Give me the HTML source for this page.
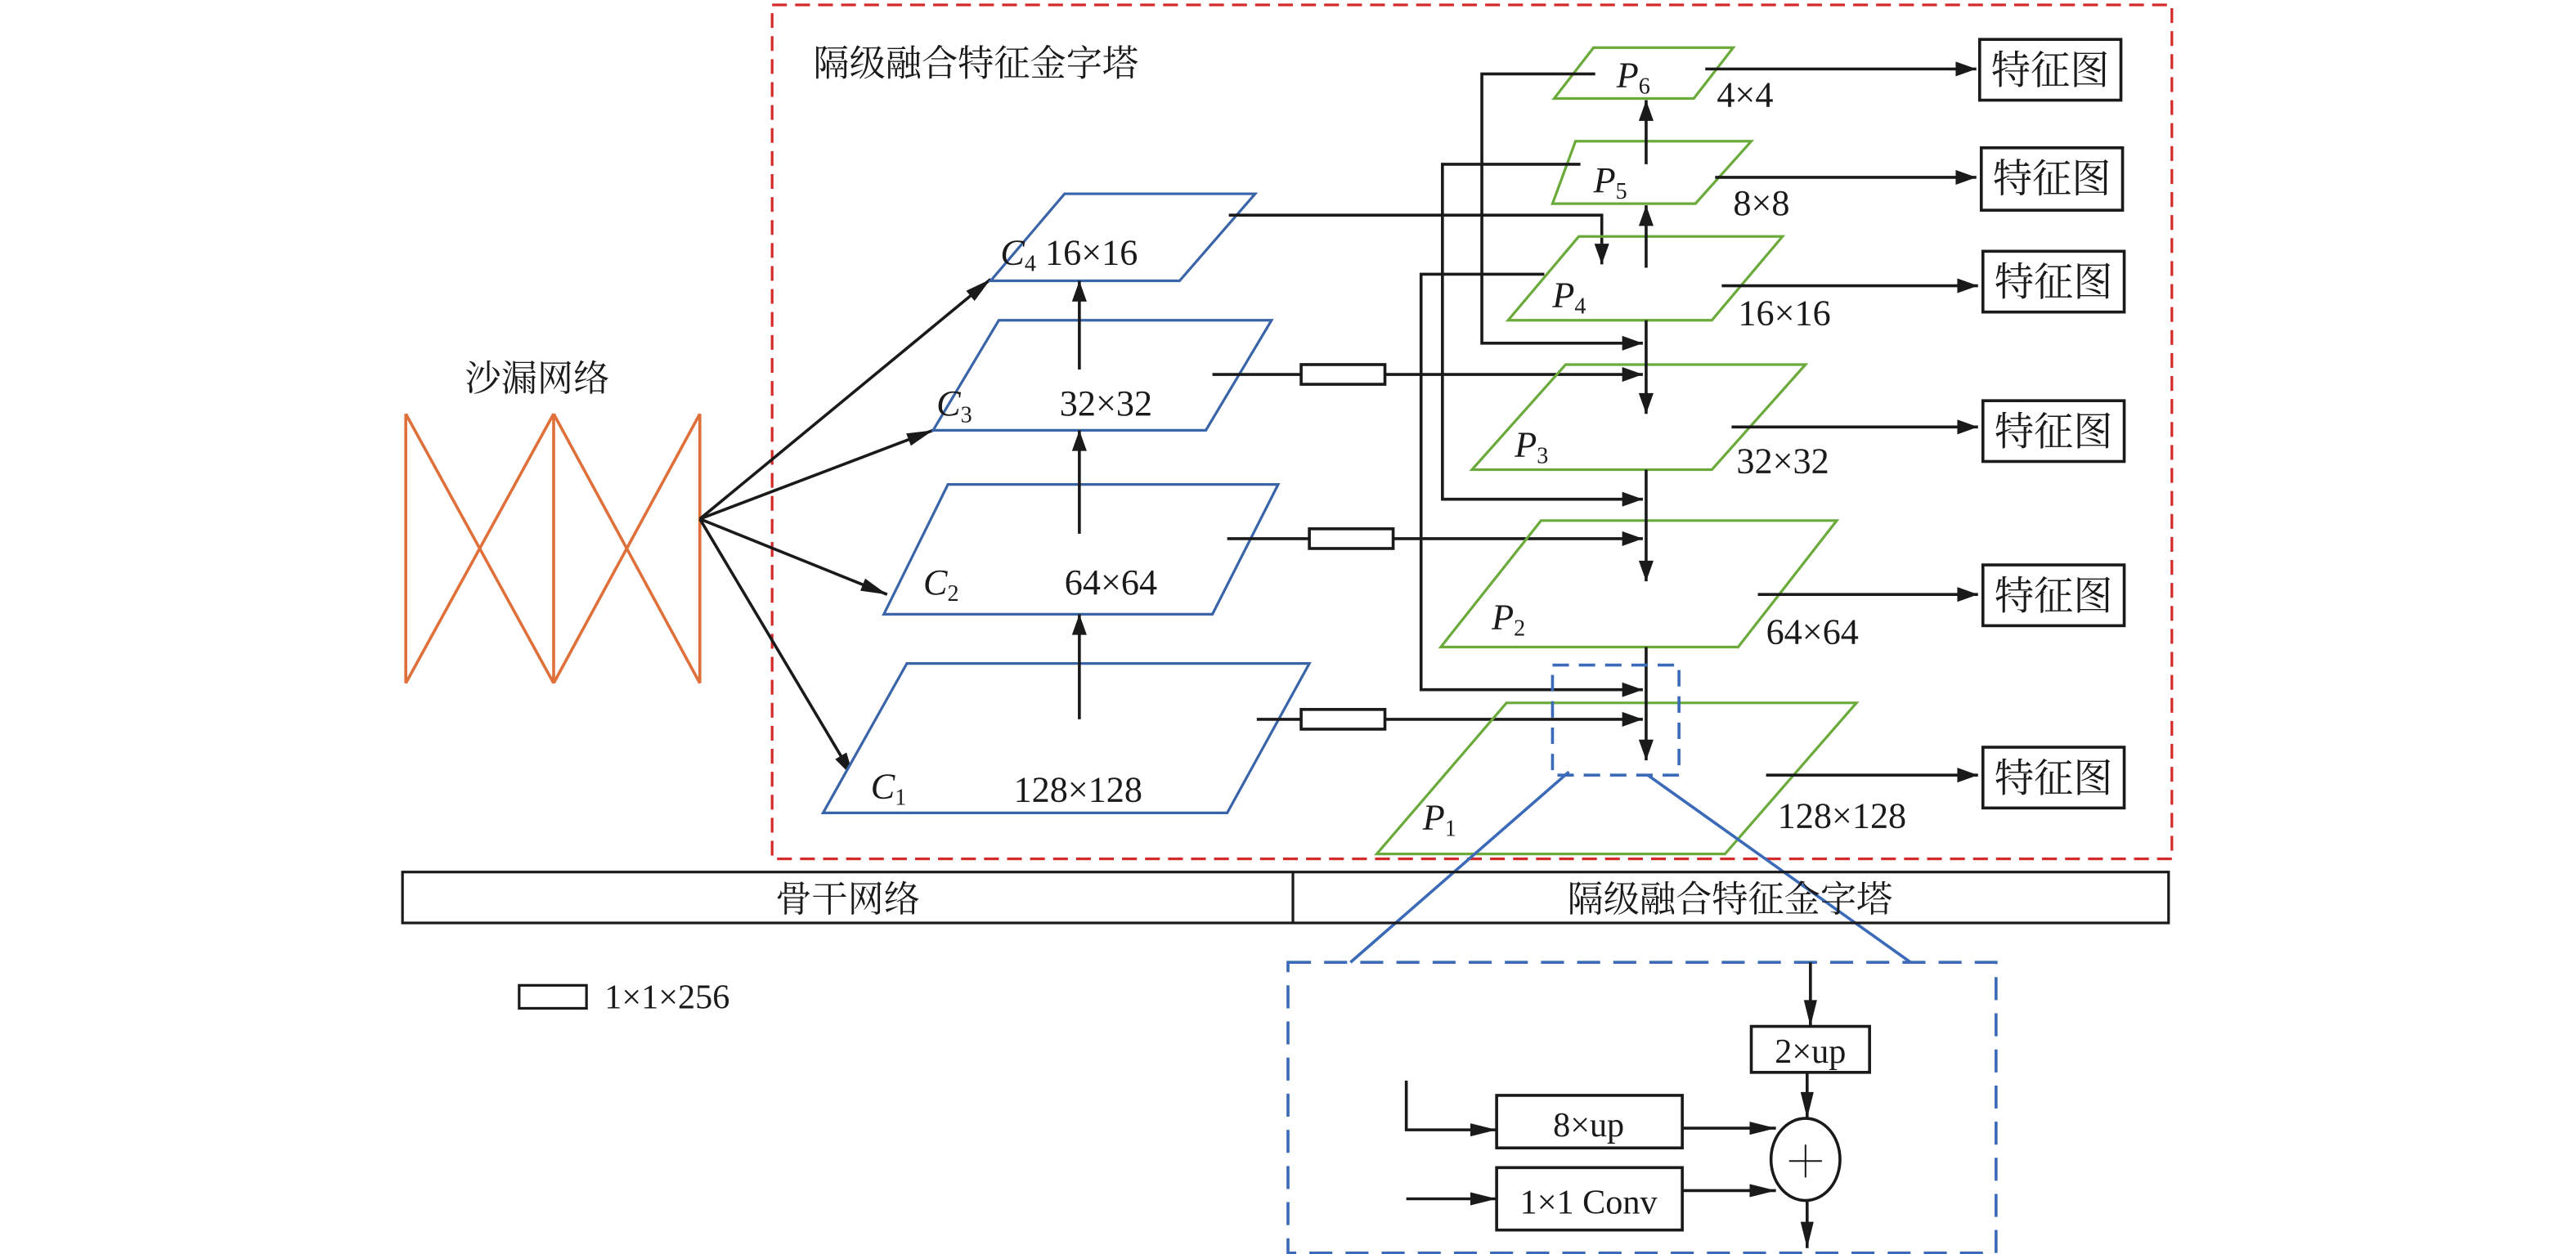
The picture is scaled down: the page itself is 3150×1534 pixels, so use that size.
<!DOCTYPE html>
<html><head><meta charset="utf-8"><style>
html,body{margin:0;padding:0;background:#fff;}
svg{display:block;}
text{font-family:"Liberation Serif","Noto Serif CJK SC",serif;fill:#1a1a1a;}
.cn{font-family:"Liberation Serif","Noto Serif CJK SC","Noto Sans CJK SC",serif;}
</style></head><body>
<svg width="3150" height="1534" viewBox="0 0 1568 763.6" preserveAspectRatio="none" xmlns="http://www.w3.org/2000/svg">
<defs>
<marker id="a" viewBox="0 0 14 10" refX="14" refY="5" markerWidth="13" markerHeight="9" orient="auto" markerUnits="userSpaceOnUse"><path d="M0,0 L14,5 L0,10 z" fill="#1a1a1a"/></marker>
<marker id="b" viewBox="0 0 20 10" refX="20" refY="5" markerWidth="17" markerHeight="8" orient="auto" markerUnits="userSpaceOnUse"><path d="M0,0 L20,5 L0,10 z" fill="#1a1a1a"/></marker>
</defs>
<rect x="470" y="3" width="852" height="520" fill="none" stroke="#d42a2a" stroke-width="1.6" stroke-dasharray="9,5"/>
<text x="495" y="46" font-size="22" class="cn">隔级融合特征金字塔</text>
<text x="283" y="238" font-size="22" class="cn">沙漏网络</text>
<g stroke="#e0703a" stroke-width="1.8" fill="none">
<line x1="247" y1="252" x2="247" y2="416"/><line x1="337" y1="252" x2="337" y2="416"/><line x1="426" y1="252" x2="426" y2="416"/>
<line x1="247" y1="252" x2="337" y2="416"/><line x1="247" y1="416" x2="337" y2="252"/>
<line x1="337" y1="252" x2="426" y2="416"/><line x1="337" y1="416" x2="426" y2="252"/>
</g>
<g stroke="#1a1a1a" stroke-width="1.8" fill="none">
<line x1="426" y1="316" x2="603" y2="170" marker-end="url(#b)"/>
<line x1="426" y1="316" x2="568" y2="262" marker-end="url(#b)"/>
<line x1="426" y1="316" x2="540" y2="362" marker-end="url(#b)"/>
<line x1="426" y1="316" x2="520" y2="474" marker-end="url(#b)"/>
</g>
<g stroke="#3a64a8" stroke-width="1.6" fill="#fff">
<polygon points="648,118 764,118 718,171 603,171"/>
<polygon points="608,195 774,195 734,262 568,262"/>
<polygon points="577,295 778,295 738,374 538,374"/>
<polygon points="552,404 797,404 747,495 501,495"/>
</g>
<g font-size="22">
<text x="609" y="161"><tspan font-style="italic">C</tspan><tspan font-size="14" dy="4">4</tspan><tspan dy="-4"> 16×16</tspan></text>
<text x="570" y="253"><tspan font-style="italic">C</tspan><tspan font-size="14" dy="4">3</tspan></text>
<text x="645" y="253">32×32</text>
<text x="562" y="362"><tspan font-style="italic">C</tspan><tspan font-size="14" dy="4">2</tspan></text>
<text x="648" y="362">64×64</text>
<text x="530" y="486"><tspan font-style="italic">C</tspan><tspan font-size="14" dy="4">1</tspan></text>
<text x="617" y="488">128×128</text>
</g>
<g stroke="#1a1a1a" stroke-width="1.8" fill="none">
<line x1="657" y1="438" x2="657" y2="374" marker-end="url(#a)"/>
<line x1="657" y1="325" x2="657" y2="262" marker-end="url(#a)"/>
<line x1="657" y1="225" x2="657" y2="171" marker-end="url(#a)"/>
<polyline points="748,131 975,131 975,161" marker-end="url(#a)"/>
<line x1="738" y1="228" x2="792" y2="228"/><rect x="792" y="222" width="51" height="12"/><line x1="843" y1="228" x2="1000" y2="228" marker-end="url(#a)"/>
<line x1="747" y1="328" x2="797" y2="328"/><rect x="797" y="322" width="51" height="12"/><line x1="848" y1="328" x2="1000" y2="328" marker-end="url(#a)"/>
<line x1="765" y1="438" x2="792" y2="438"/><rect x="792" y="432" width="51" height="12"/><line x1="843" y1="438" x2="1000" y2="438" marker-end="url(#a)"/>
</g>
<g stroke="#6aaa3a" stroke-width="1.6" fill="none">
<polygon points="970,29 1055,29 1031,60 946,60"/>
<polygon points="959,86 1066,86 1032,124 945,124"/>
<polygon points="961,144 1085,144 1042,195 918,195"/>
<polygon points="953,222 1099,222 1042,286 896,286"/>
<polygon points="938,317 1118,317 1058,394 877,394"/>
<polygon points="917,428 1130,428 1050,520 838,520"/>
</g>
<g font-size="22">
<text x="984" y="53"><tspan font-style="italic">P</tspan><tspan font-size="14" dy="4">6</tspan></text>
<text x="970" y="117"><tspan font-style="italic">P</tspan><tspan font-size="14" dy="4">5</tspan></text>
<text x="945" y="187"><tspan font-style="italic">P</tspan><tspan font-size="14" dy="4">4</tspan></text>
<text x="922" y="278"><tspan font-style="italic">P</tspan><tspan font-size="14" dy="4">3</tspan></text>
<text x="908" y="383"><tspan font-style="italic">P</tspan><tspan font-size="14" dy="4">2</tspan></text>
<text x="866" y="505"><tspan font-style="italic">P</tspan><tspan font-size="14" dy="4">1</tspan></text>
<text x="1045" y="65">4×4</text>
<text x="1055" y="131">8×8</text>
<text x="1058" y="198">16×16</text>
<text x="1057" y="288">32×32</text>
<text x="1075" y="392">64×64</text>
<text x="1082" y="504">128×128</text>
</g>
<g stroke="#1a1a1a" stroke-width="1.8" fill="none">
<line x1="1002" y1="100" x2="1002" y2="61" marker-end="url(#a)"/>
<line x1="1002" y1="163" x2="1002" y2="125" marker-end="url(#a)"/>
<line x1="1002" y1="195" x2="1002" y2="252" marker-end="url(#a)"/>
<line x1="1002" y1="286" x2="1002" y2="354" marker-end="url(#a)"/>
<line x1="1002" y1="394" x2="1002" y2="463" marker-end="url(#a)"/>
<polyline points="971,45 902,45 902,209 1000,209" marker-end="url(#a)"/>
<polyline points="962,100 878,100 878,304 1000,304" marker-end="url(#a)"/>
<polyline points="940,167 865,167 865,420 1000,420" marker-end="url(#a)"/>
<line x1="1038" y1="42" x2="1203" y2="42" marker-end="url(#a)"/>
<line x1="1044" y1="108" x2="1203" y2="108" marker-end="url(#a)"/>
<line x1="1048" y1="174" x2="1204" y2="174" marker-end="url(#a)"/>
<line x1="1054" y1="260" x2="1204" y2="260" marker-end="url(#a)"/>
<line x1="1070" y1="362" x2="1204" y2="362" marker-end="url(#a)"/>
<line x1="1075" y1="472" x2="1204" y2="472" marker-end="url(#a)"/>
<rect x="1205" y="24" width="86" height="37"/>
<rect x="1206" y="90" width="86" height="38"/>
<rect x="1207" y="153" width="86" height="37"/>
<rect x="1207" y="244" width="86" height="37"/>
<rect x="1207" y="344" width="86" height="37"/>
<rect x="1207" y="455" width="86" height="37"/>
</g>
<g font-size="24" class="cn">
<text x="1212" y="51">特征图</text>
<text x="1213" y="117">特征图</text>
<text x="1214" y="180">特征图</text>
<text x="1214" y="271">特征图</text>
<text x="1214" y="371">特征图</text>
<text x="1214" y="482">特征图</text>
</g>
<g stroke="#3a6ab8" stroke-width="1.8" fill="none">
<rect x="945" y="405" width="77" height="67" stroke-dasharray="10,6"/>
<line x1="955" y1="470" x2="822" y2="586"/>
<line x1="1003" y1="472" x2="1163" y2="586"/>
<rect x="784" y="586" width="431" height="177" stroke-dasharray="14,8"/>
</g>
<g stroke="#1a1a1a" stroke-width="1.6" fill="none">
<rect x="245" y="531" width="1075" height="31"/>
<line x1="787" y1="531" x2="787" y2="562"/>
<rect x="316" y="600" width="41" height="14"/>
</g>
<text x="516" y="555" font-size="22" text-anchor="middle" class="cn">骨干网络</text>
<text x="1053" y="555" font-size="22" text-anchor="middle" class="cn">隔级融合特征金字塔</text>
<text x="368" y="614" font-size="21">1×1×256</text>
<g stroke="#1a1a1a" stroke-width="1.8" fill="none">
<line x1="1102" y1="586" x2="1102" y2="625" marker-end="url(#b)"/>
<rect x="1066" y="625" width="72" height="28"/>
<line x1="1100" y1="653" x2="1100" y2="681" marker-end="url(#b)"/>
<ellipse cx="1099" cy="706" rx="21" ry="25"/>
<rect x="911" y="667" width="113" height="32"/>
<rect x="911" y="711" width="113" height="38"/>
<polyline points="856,658 856,688 911,688" marker-end="url(#b)"/>
<line x1="856" y1="730" x2="911" y2="730" marker-end="url(#b)"/>
<line x1="1024" y1="687" x2="1081" y2="687" marker-end="url(#b)"/>
<line x1="1024" y1="725" x2="1081" y2="725" marker-end="url(#b)"/>
<line x1="1100" y1="731" x2="1100" y2="760" marker-end="url(#b)"/>
</g>
<g stroke="#1a1a1a" stroke-width="1"><line x1="1099" y1="697" x2="1099" y2="717"/><line x1="1089" y1="707" x2="1109" y2="707"/></g>
<text x="1102" y="647" font-size="21" text-anchor="middle">2×up</text>
<text x="967" y="692" font-size="21" text-anchor="middle">8×up</text>
<text x="967" y="739" font-size="21" text-anchor="middle">1×1 Conv</text>
</svg>
</body></html>
